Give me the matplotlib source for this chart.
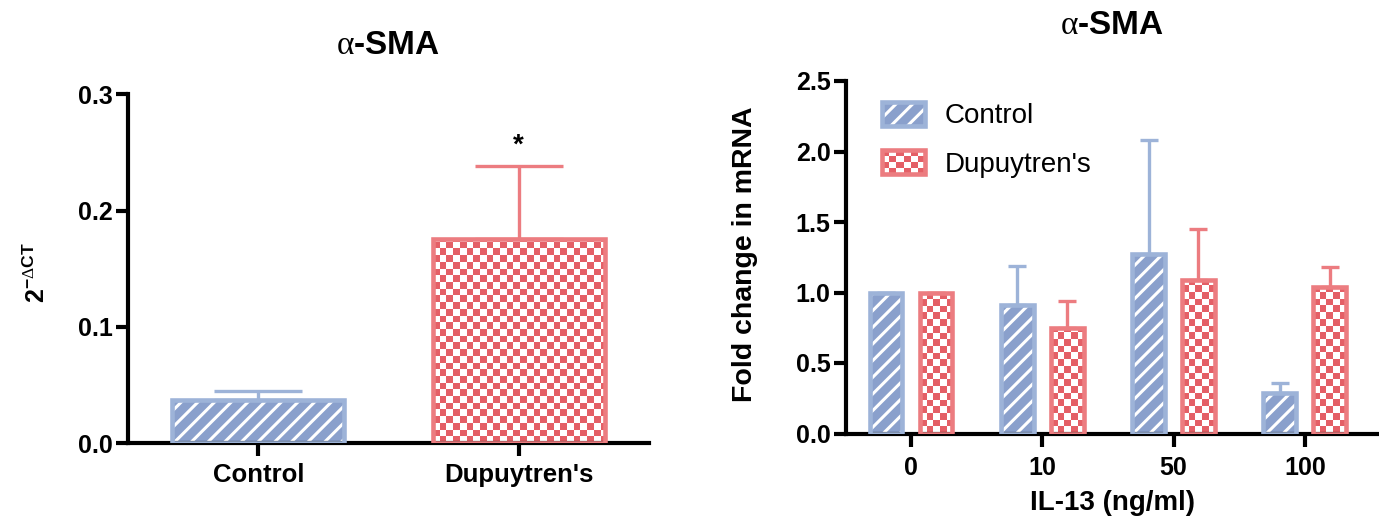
import numpy as np
import matplotlib
matplotlib.use('Agg')
import matplotlib.pyplot as plt
from matplotlib.colors import ListedColormap
from matplotlib.patches import Rectangle, Patch
from matplotlib.legend_handler import HandlerBase

plt.rcParams['font.family'] = ['Liberation Sans', 'DejaVu Sans']
plt.rcParams['font.weight'] = 'bold'
plt.rcParams['axes.labelweight'] = 'bold'
plt.rcParams['mathtext.fontset'] = 'custom'
plt.rcParams['mathtext.rm'] = 'Liberation Serif:weight=normal'
plt.rcParams['mathtext.bf'] = 'Liberation Sans:weight=bold'
plt.rcParams['hatch.linewidth'] = 2.2

# left panel: baseline expression
groups = ['Control', "Dupuytren's"]
baseline = [0.037, 0.176]
baseline_err = [0.008, 0.062]

# right panel: IL-13 dose response
doses = ['0', '10', '50', '100']
control_fold = [1.0, 0.91, 1.27, 0.29]
control_err = [0.0, 0.28, 0.81, 0.07]
dupuytren_fold = [1.0, 0.75, 1.09, 1.04]
dupuytren_err = [0.0, 0.19, 0.36, 0.14]

BLUE_FILL = '#8aa0cc'
BLUE_EDGE = '#9db3d8'
RED_FILL = '#e45f66'
RED_EDGE = '#ec7c80'
EDGE_LW = 3.3
SQ = 6.7  # checker square, pixels


def striped_bar(ax, x, h, w):
    ax.bar(x, h, w, color=BLUE_FILL, edgecolor='white', linewidth=0, hatch='//', zorder=2)
    ax.bar(x, h, w, fill=False, edgecolor=BLUE_EDGE, linewidth=EDGE_LW, zorder=3)


def checker_bar(ax, x, h, w):
    bg = ax.bar(x, h, w, color='white', linewidth=0, zorder=2)[0]
    x0, y0 = ax.transData.transform((x - w / 2, 0))
    x1, y1 = ax.transData.transform((x + w / 2, h))
    nx = int(np.ceil((x1 - x0) / SQ))
    ny = int(np.ceil((y1 - y0) / SQ))
    ex1, ey1 = ax.transData.inverted().transform((x0 + nx * SQ, y0 + ny * SQ))
    grid = np.indices((ny, nx)).sum(axis=0) % 2
    im = ax.imshow(grid, cmap=ListedColormap(['white', RED_FILL]),
                   extent=(x - w / 2, ex1, 0, ey1), origin='lower',
                   aspect='auto', interpolation='nearest', zorder=2.5)
    im.set_clip_path(bg)
    ax.bar(x, h, w, fill=False, edgecolor=RED_EDGE, linewidth=EDGE_LW, zorder=3)


def upper_err(ax, x, h, err, color, capsize):
    ax.errorbar(x, h, yerr=[[0], [err]], fmt='none', ecolor=color,
                elinewidth=2.4, capsize=capsize, capthick=2.4, zorder=1)


class StripeHandler(HandlerBase):
    def create_artists(self, legend, orig_handle, xdescent, ydescent, width, height, fontsize, trans):
        r1 = Rectangle((-xdescent, -ydescent), width, height, facecolor=BLUE_FILL,
                       edgecolor='white', linewidth=0, hatch='//', transform=trans)
        r2 = Rectangle((-xdescent, -ydescent), width, height, fill=False,
                       edgecolor=BLUE_EDGE, linewidth=EDGE_LW, transform=trans)
        return [r1, r2]


class CheckerHandler(HandlerBase):
    def create_artists(self, legend, orig_handle, xdescent, ydescent, width, height, fontsize, trans):
        arts = [Rectangle((-xdescent, -ydescent), width, height, facecolor='white',
                          edgecolor='none', transform=trans)]
        nx, ny = 6, 4
        dw, dh = width / nx, height / ny
        for i in range(nx):
            for j in range(ny):
                if (i + j) % 2:
                    arts.append(Rectangle((-xdescent + i * dw, -ydescent + j * dh), dw, dh,
                                          facecolor=RED_FILL, edgecolor='none', transform=trans))
        arts.append(Rectangle((-xdescent, -ydescent), width, height, fill=False,
                              edgecolor=RED_EDGE, linewidth=EDGE_LW, transform=trans))
        return arts


def style_axes(ax):
    ax.spines[['top', 'right']].set_visible(False)
    ax.spines[['left', 'bottom']].set_linewidth(3)
    ax.tick_params(width=3, length=9, labelsize=18, pad=2)


fig = plt.figure(figsize=(13.79, 5.22), dpi=100)

# ---- left panel
ax1 = fig.add_axes([128 / 1379, 1 - 443.3 / 522, 521 / 1379, 349 / 522])
style_axes(ax1)
ax1.set_xlim(-0.5, 1.5)
ax1.set_ylim(0, 0.3)
ax1.set_yticks([0, 0.1, 0.2, 0.3])
ax1.set_yticklabels(['0.0', '0.1', '0.2', '0.3'])
ax1.set_xticks([0, 1])
ax1.set_xticklabels(groups, fontsize=18.5)
ax1.tick_params(axis='x', pad=5)

striped_bar(ax1, 0, baseline[0], 0.66)
checker_bar(ax1, 1, baseline[1], 0.66)
upper_err(ax1, 0, baseline[0], baseline_err[0], BLUE_EDGE, 32)
upper_err(ax1, 1, baseline[1], baseline_err[1], RED_EDGE, 32)
ax1.text(1, baseline[1] + baseline_err[1] + 0.018, '*', ha='center', va='center', fontsize=20)

ax1.set_ylabel(r'$\mathbf{2}^{\mathbf{-}\mathrm{\Delta}\mathbf{CT}}$', fontsize=18)
ax1.yaxis.set_label_coords(-0.175, 0.49)
ax1.yaxis.label.set_va('center')
fig.text(388 / 1379, 1 - 45 / 522, r'$\mathrm{\alpha}$-SMA', ha='center', va='center',
         fontsize=24, fontweight='bold')

# ---- right panel
ax2 = fig.add_axes([846 / 1379, 1 - 433.5 / 522, 533 / 1379, 352.5 / 522])
style_axes(ax2)
ax2.set_xlim(-0.495, 3.565)
ax2.set_ylim(0, 2.5)
ax2.set_yticks(np.arange(0, 2.51, 0.5))
ax2.set_yticklabels(['0.0', '0.5', '1.0', '1.5', '2.0', '2.5'])
ax2.set_xticks(range(len(doses)))
ax2.set_xticklabels(doses)
ax2.tick_params(axis='x', pad=7)

xs = np.arange(len(doses))
w, off = 0.25, 0.19
for i in range(len(doses)):
    striped_bar(ax2, xs[i] - off, control_fold[i], w)
    checker_bar(ax2, xs[i] + off, dupuytren_fold[i], w)
    upper_err(ax2, xs[i] - off, control_fold[i], control_err[i], BLUE_EDGE, 6.8)
    upper_err(ax2, xs[i] + off, dupuytren_fold[i], dupuytren_err[i], RED_EDGE, 6.8)

ax2.set_ylabel('Fold change in mRNA', fontsize=20.5)
ax2.yaxis.set_label_coords(-0.19, 0.509)
ax2.yaxis.label.set_va('center')
ax2.set_xlabel('IL-13 (ng/ml)', fontsize=20)
ax2.xaxis.set_label_coords(0.5, -0.196)
ax2.xaxis.label.set_va('center')
fig.text(1112 / 1379, 1 - 25 / 522, r'$\mathrm{\alpha}$-SMA', ha='center', va='center',
         fontsize=24, fontweight='bold')

h_ctrl = Patch(label='Control')
h_dup = Patch(label="Dupuytren's")
leg = ax2.legend(handles=[h_ctrl, h_dup], loc='upper left',
                 bbox_to_anchor=((882 - 846) / 533, (433.5 - 102) / 352.5),
                 frameon=False, borderpad=0, borderaxespad=0,
                 handlelength=1.55, handleheight=0.94, handletextpad=0.72, labelspacing=0.75,
                 prop={'size': 20, 'weight': 'normal'},
                 handler_map={h_ctrl: StripeHandler(), h_dup: CheckerHandler()})

fig.savefig('out.png', dpi=100)
